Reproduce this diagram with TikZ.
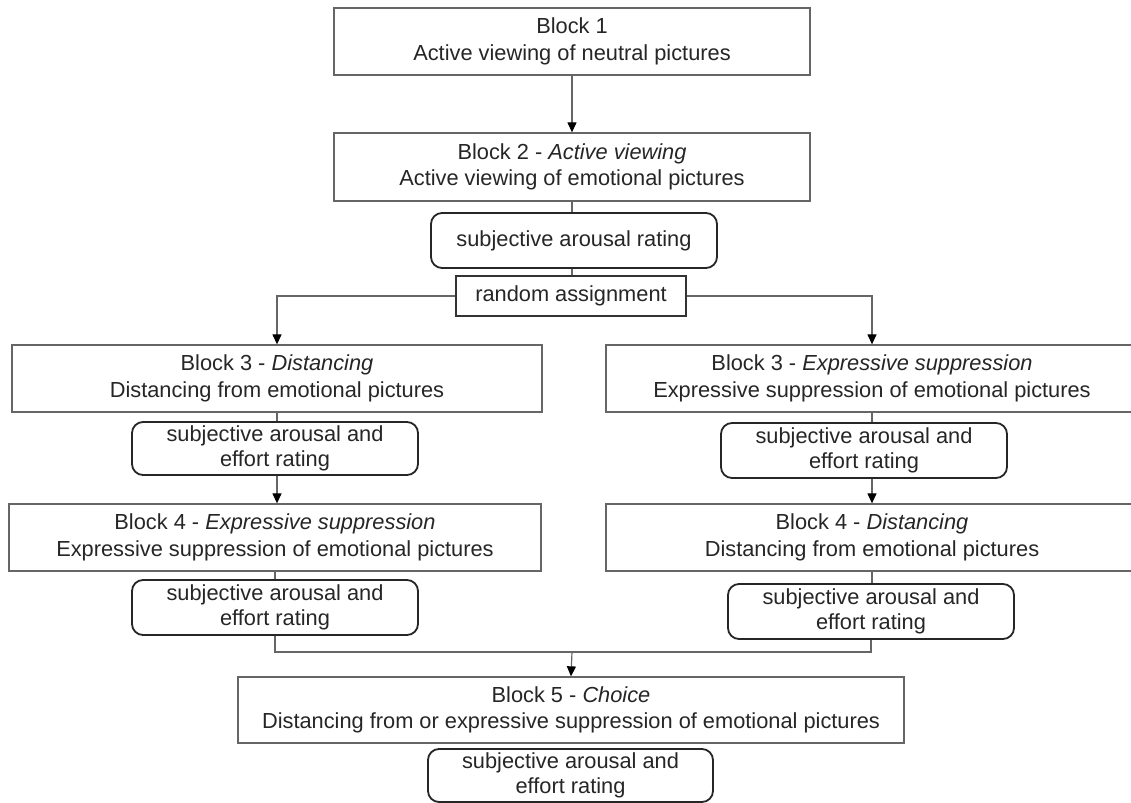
\documentclass[tikz,border=0pt]{standalone}
\usepackage{fontspec}
\setmainfont{Liberation Sans}
\usetikzlibrary{arrows.meta}
\begin{document}
\begin{tikzpicture}[x=1bp,y=-1bp,
  txt/.style={font=\fontsize{21.8bp}{26.5bp}\selectfont, text=black!85, align=center, inner sep=0pt},
  blockbox/.style={txt, draw=black!60, line width=1.3bp},
  ratebox/.style={txt, draw=black!85, line width=1.8bp, rounded corners=11bp, font=\fontsize{21.8bp}{25bp}\selectfont},
  randbox/.style={txt, draw=black!80, line width=1.6bp},
  conn/.style={draw=black!60, line width=1.2bp},
  arr/.style={conn, -{Triangle[length=10bp,width=9bp,black]}}]
\useasboundingbox (0,0) rectangle (1131,803);
\fill[white] (0,0) rectangle (1131,803);

\node[blockbox, minimum width=476bp, minimum height=67bp] (b1) at (572,41.5) {Block 1\\Active viewing of neutral pictures};
\node[blockbox, minimum width=476bp, minimum height=68bp] (b2) at (572,167) {Block 2 - \textit{Active viewing}\\Active viewing of emotional pictures};
\node[ratebox, minimum width=286bp, minimum height=55bp] (r1) at (574,240.5) {subjective arousal rating};
\node[randbox, minimum width=230bp, minimum height=40bp] (ra) at (571,296) {random assignment};

\node[blockbox, minimum width=530bp, minimum height=67bp] (b3l) at (277,378.5) {Block 3 - \textit{Distancing}\\Distancing from emotional pictures};
\node[blockbox, minimum width=532bp, minimum height=67bp] (b3r) at (872,378.5) {Block 3 - \textit{Expressive suppression}\\Expressive suppression of emotional pictures};
\node[ratebox, minimum width=286bp, minimum height=53bp] (r3l) at (275,448.5) {subjective arousal and\\effort rating};
\node[ratebox, minimum width=286bp, minimum height=55bp] (r3r) at (864,450.5) {subjective arousal and\\effort rating};

\node[blockbox, minimum width=532bp, minimum height=67bp] (b4l) at (275,537.5) {Block 4 - \textit{Expressive suppression}\\Expressive suppression of emotional pictures};
\node[blockbox, minimum width=532bp, minimum height=67bp] (b4r) at (872,537.5) {Block 4 - \textit{Distancing}\\Distancing from emotional pictures};
\node[ratebox, minimum width=286bp, minimum height=55bp] (r4l) at (275,607.5) {subjective arousal and\\effort rating};
\node[ratebox, minimum width=286bp, minimum height=55bp] (r4r) at (871,611.5) {subjective arousal and\\effort rating};

\node[blockbox, minimum width=666bp, minimum height=66bp] (b5) at (571,710) {Block 5 - \textit{Choice}\\Distancing from or expressive suppression of emotional pictures};
\node[ratebox, minimum width=285bp, minimum height=53bp] (r5) at (570.5,775.5) {subjective arousal and\\effort rating};

\draw[arr] (b1.south) -- (b2.north);
\draw[conn] (b2.south) -- (b2.south |- r1.north);
\draw[conn] (b2.south |- r1.south) -- (b2.south |- ra.north);
\draw[arr] (ra.west) -| (b3l.north);
\draw[arr] (ra.east) -| (b3r.north);

\draw[conn] (b3l.south) -- (b3l.south |- r3l.north);
\draw[arr] (b3l.south |- r3l.south) -- (b3l.south |- b4l.north);
\draw[conn] (b3r.south) -- (b3r.south |- r3r.north);
\draw[arr] (b3r.south |- r3r.south) -- (b3r.south |- b4r.north);

\draw[conn] (b4l.south) -- (b4l.south |- r4l.north);
\draw[conn] (b4r.south) -- (b4r.south |- r4r.north);
\coordinate (m) at (572,652);
\draw[conn] (r4l.south) -- (r4l.south |- m) -- (r4r.south |- m) -- (r4r.south);
\draw[arr] (m) -- (b5.north);
\end{tikzpicture}
\end{document}
